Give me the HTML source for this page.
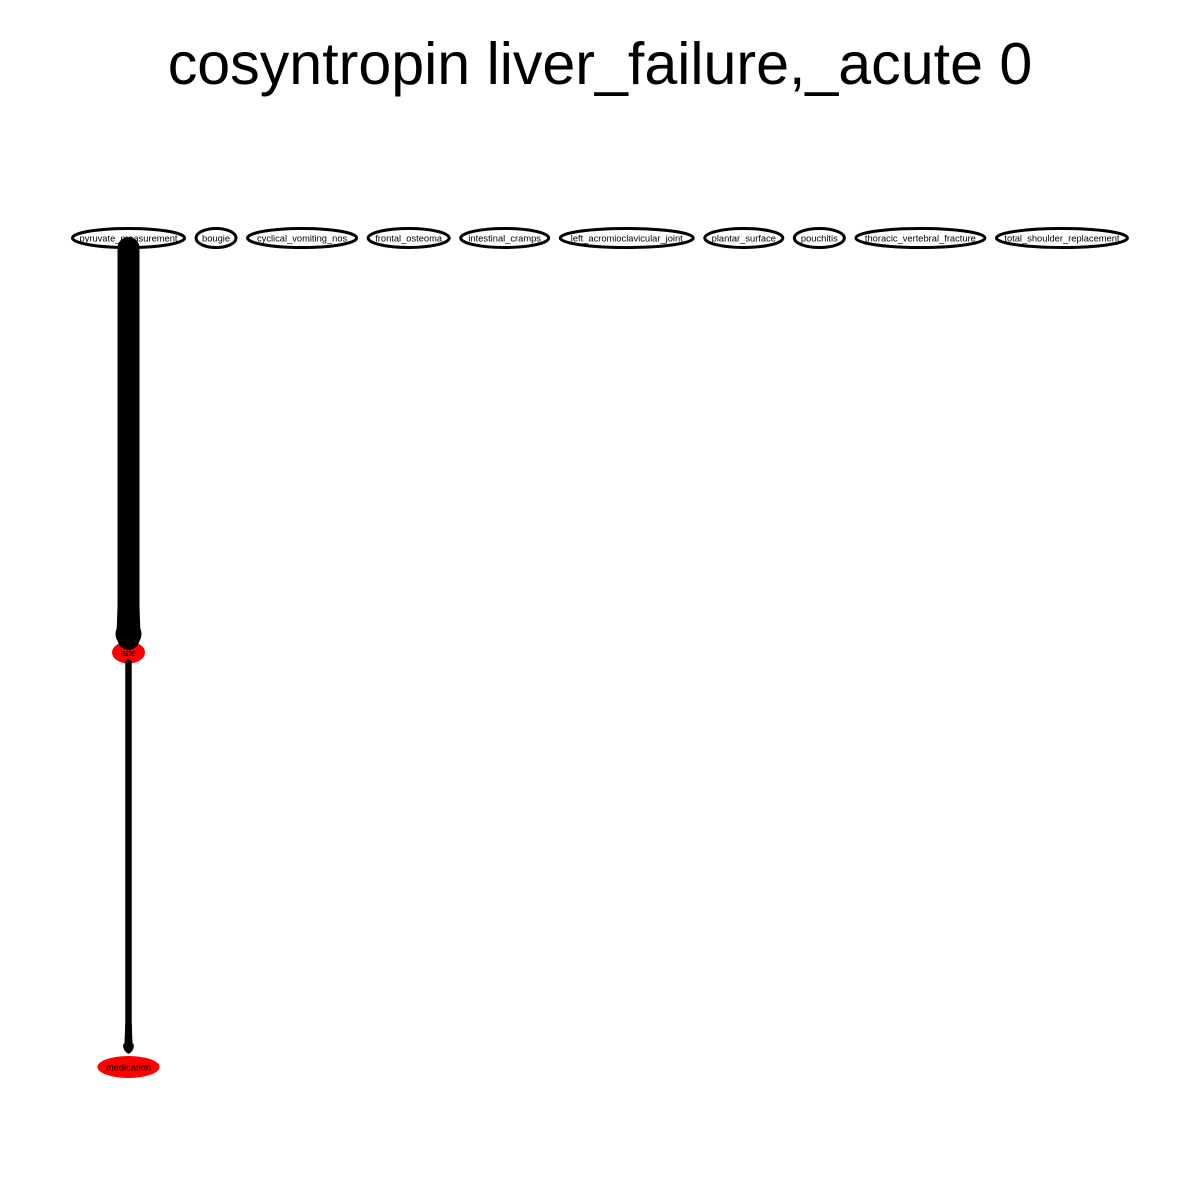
<!DOCTYPE html>
<html>
<head>
<meta charset="utf-8">
<style>
html,body{margin:0;padding:0;background:#fff;width:1200px;height:1200px;overflow:hidden}
svg{display:block}
text{font-family:"Liberation Sans",Arial,sans-serif;fill:#000}
</style>
</head>
<body>
<svg id="chart" width="1200" height="1200" viewBox="0 0 1200 1200" xmlns="http://www.w3.org/2000/svg">
  <rect width="1200" height="1200" fill="#fff"/>
  <text x="600" y="84" text-anchor="middle" font-size="59.15">cosyntropin liver_failure,_acute 0</text>
  <g id="nodes"></g>
  <g id="labels"></g>
  <g id="edges"></g>
</svg>
<script>
const topLabels = ["pyruvate_measurement","bougie","cyclical_vomiting_nos","frontal_osteoma","intestinal_cramps","left_acromioclavicular_joint","plantar_surface","pouchitis","thoracic_vertebral_fracture","total_shoulder_replacement"];
const lowerLabels = ["ade","medication"];
const lowerRanks = [1,2];
const edgeFrom = ["pyruvate_measurement","ade"];
const edgeTo = ["ade","medication"];
const edgeWeights = [22,6.5];

const NS = "http://www.w3.org/2000/svg";
const nodesG = document.getElementById("nodes");
const edgesG = document.getElementById("edges");
const labelsG = document.getElementById("labels");
const rankY = function (rank) { return 238 + rank * 414.5; };
const nodeIndex = {};
/* layout only: outer ellipse widths of the top row, keyed by label */
const topNodeLayout = {
  pyruvate_measurement: 115, bougie: 43, cyclical_vomiting_nos: 112, frontal_osteoma: 84,
  intestinal_cramps: 91, left_acromioclavicular_joint: 136, plantar_surface: 81,
  pouchitis: 53, thoracic_vertebral_fracture: 132, total_shoulder_replacement: 134
};

function makeLabel(name, x, y) {
  const t = document.createElementNS(NS, "text");
  
  
  t.setAttribute("x", x);
  t.setAttribute("y", y + 3.3);
  t.setAttribute("text-anchor", "middle");
  t.setAttribute("font-size", "9.33");
  t.textContent = name;
  labelsG.appendChild(t);
  return t;
}

function makeEllipse(x, y, rx, ry, fill, stroke) {
  const e = document.createElementNS(NS, "ellipse");
  
  
  e.setAttribute("cx", x);
  e.setAttribute("cy", y);
  e.setAttribute("rx", rx);
  e.setAttribute("ry", ry);
  e.setAttribute("fill", fill);
  if (stroke) {
    e.setAttribute("stroke", "#000");
    e.setAttribute("stroke-width", "3");
  }
  nodesG.appendChild(e);
  return e;
}

/* top row: packed left to right */
let cursor = 71;
const topY = rankY(0);
topLabels.forEach(function (name) {
  const outer = topNodeLayout[name] || 60;
  const cx = cursor + outer / 2;
  makeLabel(name, cx, topY);
  makeEllipse(cx, topY, outer / 2 - 1.5, 9.5, "#fff", true);
  nodeIndex[name] = { x: cx, y: topY };
  cursor += outer + 8.55;
});

/* lower ranks: stacked under the first node */
lowerLabels.forEach(function (name, i) {
  const cx = nodeIndex[topLabels[0]].x;
  const y = rankY(lowerRanks[i]);
  const t = makeLabel(name, cx, y);
  const w = t.getComputedTextLength() + 17;
  makeEllipse(cx, y, Math.max(w, 33) / 2, 11, "#f00", false);
  nodeIndex[name] = { x: cx, y: y };
});

/* edges: a shaft with a round start, a slight flare and a head just above the target */
edgeFrom.forEach(function (from, i) {
  const a = nodeIndex[from];
  const b = nodeIndex[edgeTo[i]];
  const w = edgeWeights[i];
  const isThick = w > 10;
  const startY = a.y + 10;
  const tip = b.y - (isThick ? 5.5 : 13);

  const shaft = document.createElementNS(NS, "line");
  
  
  shaft.setAttribute("x1", a.x);
  shaft.setAttribute("y1", startY);
  shaft.setAttribute("x2", b.x);
  shaft.setAttribute("y2", tip - 8);
  shaft.setAttribute("stroke", "#000");
  shaft.setAttribute("stroke-width", w);
  shaft.setAttribute("stroke-linecap", "round");
  edgesG.appendChild(shaft);

  const flare = document.createElementNS(NS, "path");
  
  
  const flareTop = tip - (isThick ? 40 : 30);
  const flareEnd = tip - (isThick ? 18 : 9);
  flare.setAttribute("d",
    "M" + (b.x - w / 2) + " " + flareTop +
    " L" + (b.x - w / 2 - 0.8) + " " + flareEnd +
    " L" + (b.x + w / 2 + 0.8) + " " + flareEnd +
    " L" + (b.x + w / 2) + " " + flareTop + " Z");
  flare.setAttribute("fill", "#000");
  edgesG.appendChild(flare);

  const head = document.createElementNS(NS, "path");
  
  
  let d;
  if (isThick) {
    const r = w / 2 + 2;
    d = "M" + (b.x - r) + " " + (tip - r) +
        " A" + r + " " + r + " 0 1 0 " + (b.x + r) + " " + (tip - r) +
        " A" + r + " " + r + " 0 1 0 " + (b.x - r) + " " + (tip - r) + " Z";
  } else {
    const hw = w / 2 + 2.25;
    d = "M" + (b.x - w / 2) + " " + (tip - 12) +
        " L" + (b.x - hw) + " " + (tip - 9) +
        " Q" + (b.x - hw) + " " + (tip - 3) + " " + b.x + " " + tip +
        " Q" + (b.x + hw) + " " + (tip - 3) + " " + (b.x + hw) + " " + (tip - 9) +
        " L" + (b.x + w / 2) + " " + (tip - 12) + " Z";
  }
  head.setAttribute("d", d);
  head.setAttribute("fill", "#000");
  edgesG.appendChild(head);
});
</script>
</body>
</html>
